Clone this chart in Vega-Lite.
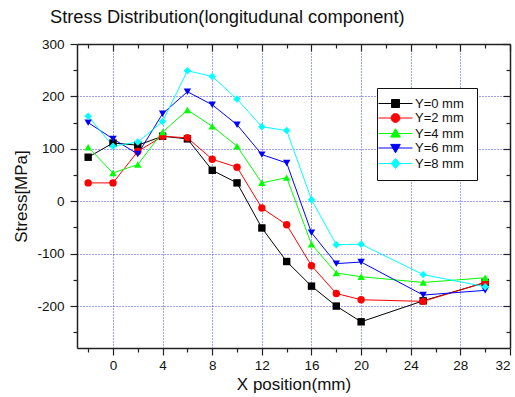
{
  "$schema": "https://vega.github.io/schema/vega-lite/v6.json",
  "autosize": {"type": "none"},
  "padding": {"left": 77, "top": 44, "right": 5, "bottom": 49},
  "width": 433,
  "height": 304,
  "background": "white",
  "title": {
    "text": "Stress Distribution(longitudunal component)",
    "anchor": "start",
    "frame": "group",
    "dx": -27,
    "offset": 10,
    "fontSize": 18.3,
    "fontWeight": "normal",
    "font": "Liberation Sans",
    "color": "#111"
  },
  "config": {
    "view": {"stroke": null},
    "axis": {
      "labelFont": "Liberation Sans",
      "titleFont": "Liberation Sans",
      "labelFontSize": 13.5,
      "titleFontSize": 17,
      "titleFontWeight": "normal",
      "labelColor": "#111",
      "titleColor": "#111",
      "domainColor": "#222",
      "domainWidth": 1.5,
      "tickColor": "#222",
      "tickWidth": 1.2
    }
  },
  "data": {
    "values": [
      {"x": -2, "stress": 84, "series": "Y=0 mm"},
      {"x": 0, "stress": 111, "series": "Y=0 mm"},
      {"x": 2, "stress": 107, "series": "Y=0 mm"},
      {"x": 4, "stress": 124, "series": "Y=0 mm"},
      {"x": 6, "stress": 119, "series": "Y=0 mm"},
      {"x": 8, "stress": 59, "series": "Y=0 mm"},
      {"x": 10, "stress": 35, "series": "Y=0 mm"},
      {"x": 12, "stress": -51, "series": "Y=0 mm"},
      {"x": 14, "stress": -115, "series": "Y=0 mm"},
      {"x": 16, "stress": -162, "series": "Y=0 mm"},
      {"x": 18, "stress": -200, "series": "Y=0 mm"},
      {"x": 20, "stress": -230, "series": "Y=0 mm"},
      {"x": 25, "stress": -190, "series": "Y=0 mm"},
      {"x": 30, "stress": -155, "series": "Y=0 mm"},
      {"x": -2, "stress": 35, "series": "Y=2 mm"},
      {"x": 0, "stress": 35, "series": "Y=2 mm"},
      {"x": 2, "stress": 95, "series": "Y=2 mm"},
      {"x": 4, "stress": 124, "series": "Y=2 mm"},
      {"x": 6, "stress": 121, "series": "Y=2 mm"},
      {"x": 8, "stress": 80, "series": "Y=2 mm"},
      {"x": 10, "stress": 65, "series": "Y=2 mm"},
      {"x": 12, "stress": -13, "series": "Y=2 mm"},
      {"x": 14, "stress": -45, "series": "Y=2 mm"},
      {"x": 16, "stress": -123, "series": "Y=2 mm"},
      {"x": 18, "stress": -176, "series": "Y=2 mm"},
      {"x": 20, "stress": -188, "series": "Y=2 mm"},
      {"x": 25, "stress": -191, "series": "Y=2 mm"},
      {"x": 30, "stress": -155, "series": "Y=2 mm"},
      {"x": -2, "stress": 103, "series": "Y=4 mm"},
      {"x": 0, "stress": 54, "series": "Y=4 mm"},
      {"x": 2, "stress": 70, "series": "Y=4 mm"},
      {"x": 4, "stress": 132, "series": "Y=4 mm"},
      {"x": 6, "stress": 174, "series": "Y=4 mm"},
      {"x": 8, "stress": 143, "series": "Y=4 mm"},
      {"x": 10, "stress": 105, "series": "Y=4 mm"},
      {"x": 12, "stress": 35, "series": "Y=4 mm"},
      {"x": 14, "stress": 45, "series": "Y=4 mm"},
      {"x": 16, "stress": -82, "series": "Y=4 mm"},
      {"x": 18, "stress": -137, "series": "Y=4 mm"},
      {"x": 20, "stress": -144, "series": "Y=4 mm"},
      {"x": 25, "stress": -155, "series": "Y=4 mm"},
      {"x": 30, "stress": -146, "series": "Y=4 mm"},
      {"x": -2, "stress": 150, "series": "Y=6 mm"},
      {"x": 0, "stress": 119, "series": "Y=6 mm"},
      {"x": 2, "stress": 90, "series": "Y=6 mm"},
      {"x": 4, "stress": 167, "series": "Y=6 mm"},
      {"x": 6, "stress": 209, "series": "Y=6 mm"},
      {"x": 8, "stress": 184, "series": "Y=6 mm"},
      {"x": 10, "stress": 146, "series": "Y=6 mm"},
      {"x": 12, "stress": 89, "series": "Y=6 mm"},
      {"x": 14, "stress": 73, "series": "Y=6 mm"},
      {"x": 16, "stress": -60, "series": "Y=6 mm"},
      {"x": 18, "stress": -119, "series": "Y=6 mm"},
      {"x": 20, "stress": -116, "series": "Y=6 mm"},
      {"x": 25, "stress": -179, "series": "Y=6 mm"},
      {"x": 30, "stress": -170, "series": "Y=6 mm"},
      {"x": -2, "stress": 162, "series": "Y=8 mm"},
      {"x": 0, "stress": 105, "series": "Y=8 mm"},
      {"x": 2, "stress": 113, "series": "Y=8 mm"},
      {"x": 4, "stress": 152, "series": "Y=8 mm"},
      {"x": 6, "stress": 249, "series": "Y=8 mm"},
      {"x": 8, "stress": 238, "series": "Y=8 mm"},
      {"x": 10, "stress": 195, "series": "Y=8 mm"},
      {"x": 12, "stress": 142, "series": "Y=8 mm"},
      {"x": 14, "stress": 135, "series": "Y=8 mm"},
      {"x": 16, "stress": 3, "series": "Y=8 mm"},
      {"x": 18, "stress": -83, "series": "Y=8 mm"},
      {"x": 20, "stress": -82, "series": "Y=8 mm"},
      {"x": 25, "stress": -140, "series": "Y=8 mm"},
      {"x": 30, "stress": -163, "series": "Y=8 mm"}
    ]
  },
  "resolve": {"axis": {"x": "independent", "y": "independent"}},
  "layer": [
    {
      "mark": {"type": "line", "strokeWidth": 1},
      "encoding": {
        "x": {
          "field": "x", "type": "quantitative",
          "scale": {"domain": [-2.9, 32], "nice": false, "zero": false},
          "axis": {
            "orient": "bottom",
            "title": "X position(mm)",
            "titlePadding": 5,
            "values": [-2, 0, 2, 4, 6, 8, 10, 12, 14, 16, 18, 20, 22, 24, 26, 28, 30, 32],
            "labelExpr": "datum.value % 4 === 0 ? '' + datum.value : ''",
            "labelPadding": 3,
            "tickSize": {"condition": {"test": "datum.value % 4 === 0", "value": 7}, "value": 4},
            "grid": true,
            "gridColor": "#2a2aff",
            "gridDash": [1, 2],
            "gridWidth": 1,
            "gridOpacity": {"condition": {"test": "datum.value % 4 === 0 && datum.value < 32", "value": 0.9}, "value": 0}
          }
        },
        "y": {
          "field": "stress", "type": "quantitative",
          "scale": {"domain": [-280, 300], "nice": false, "zero": false},
          "axis": {
            "orient": "left",
            "title": "Stress[MPa]",
            "titlePadding": 6,
            "values": [-250, -200, -150, -100, -50, 0, 50, 100, 150, 200, 250, 300],
            "labelExpr": "datum.value % 100 === 0 ? '' + datum.value : ''",
            "labelPadding": 6,
            "tickSize": {"condition": {"test": "datum.value % 100 === 0", "value": 7}, "value": 4},
            "grid": true,
            "gridColor": "#2a2aff",
            "gridDash": [1, 2],
            "gridWidth": 1,
            "gridOpacity": {"condition": {"test": "datum.value % 100 === 0 && datum.value < 300", "value": 0.9}, "value": 0}
          }
        },
        "color": {
          "field": "series", "type": "nominal",
          "scale": {
            "domain": ["Y=0 mm", "Y=2 mm", "Y=4 mm", "Y=6 mm", "Y=8 mm"],
            "range": ["#000000", "#ff0000", "#00ff00", "#0000ff", "#00ffff"]
          },
          "legend": {
            "orient": "none",
            "legendX": 300,
            "legendY": 44,
            "title": null,
            "padding": 9,
            "strokeColor": "#111",
            "fillColor": "white",
            "labelFont": "Liberation Sans",
            "labelFontSize": 13,
            "labelColor": "#111",
            "labelOffset": 13,
            "labelExpr": "replace(datum.label, ' ', '  ')",
            "rowPadding": 0.5,
            "symbolOffset": 3,
            "symbolSize": 64,
            "encode": {
              "symbols": {
                "update": {
                  "shape": {"signal": "datum.value === 'Y=0 mm' ? 'M-4.25,0H4.25M-1,-1H1V1H-1Z' : datum.value === 'Y=2 mm' ? 'M-4.25,0H4.25M1.1,0A1.1,1.1,0,1,1,-1.1,0A1.1,1.1,0,1,1,1.1,0Z' : datum.value === 'Y=4 mm' ? 'M-4.25,0H4.25M0,-1.2L1.2,0.9H-1.2Z' : datum.value === 'Y=6 mm' ? 'M-4.25,0H4.25M0,1.2L1.2,-0.9H-1.2Z' : 'M-4.25,0H4.25M0,-1.25L1.1,0L0,1.25L-1.1,0Z'"},
                  "fill": {"signal": "scale('color', datum.value)"},
                  "stroke": {"signal": "scale('color', datum.value)"},
                  "strokeWidth": {"value": 1},
                  "opacity": {"value": 1}
                }
              }
            }
          }
        },
        "detail": {"field": "series"}
      }
    },
    {
      "mark": {"type": "point", "filled": true, "size": 55, "opacity": 1},
      "encoding": {
        "x": {
          "field": "x", "type": "quantitative",
          "axis": {
            "orient": "top",
            "title": null,
            "labels": false,
            "grid": false,
            "values": [-2, 0, 2, 4, 6, 8, 10, 12, 14, 16, 18, 20, 22, 24, 26, 28, 30, 32],
            "tickSize": {"condition": {"test": "datum.value % 4 === 0", "value": -7}, "value": -4}
          }
        },
        "y": {
          "field": "stress", "type": "quantitative",
          "axis": {
            "orient": "right",
            "title": null,
            "labels": false,
            "grid": false,
            "values": [-250, -200, -150, -100, -50, 0, 50, 100, 150, 200, 250, 300],
            "tickSize": {"condition": {"test": "datum.value % 100 === 0", "value": -7}, "value": -4}
          }
        },
        "color": {"field": "series", "type": "nominal"},
        "shape": {
          "field": "series", "type": "nominal",
          "scale": {
            "range": ["square", "circle", "triangle-up", "triangle-down", "diamond"]
          },
          "legend": null
        }
      }
    }
  ]
}
